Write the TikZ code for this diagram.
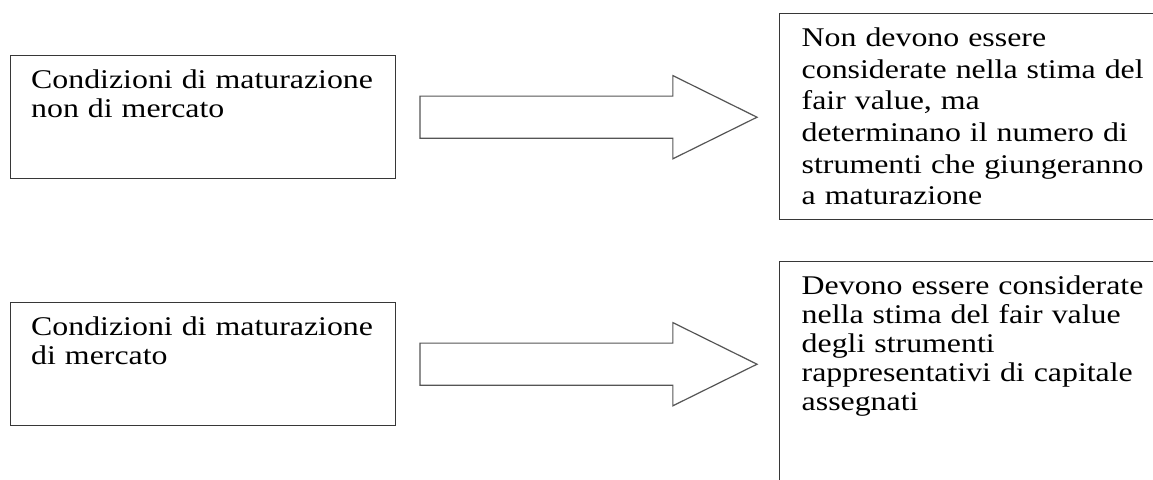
\documentclass[tikz,border=0pt]{standalone}
\usepackage{fontspec}
\setmainfont{Liberation Serif}[FakeStretch=1.18]
\usepackage{tikz}
\usetikzlibrary{shapes.arrows, positioning}
\definecolor{boxgray}{RGB}{55,55,55}
\definecolor{arrowgray}{RGB}{85,85,85}
\hyphenpenalty=10000
\exhyphenpenalty=10000

\begin{document}
\begin{tikzpicture}[
  x=1pt, y=-1pt,
  condbox/.style={rectangle, draw=boxgray, line width=1.4pt, anchor=north west,
                  align=left, text width=344pt, inner xsep=20.5pt, inner ysep=14.5pt,
                  text height=18.5pt, text depth=75.5pt,
                  font=\fontsize{27}{29}\selectfont},
  esitobox/.style={condbox, text width=350pt, inner xsep=22pt},
  freccia/.style={single arrow, draw=arrowgray, line width=1.2pt, fill=white,
                  minimum height=337pt, minimum width=82pt,
                  single arrow head extend=20.5pt, single arrow tip angle=52.6,
                  inner xsep=0pt, inner ysep=20.5pt},
]
\clip (0,0) rectangle (1153,479);
\fill[white] (0,0) rectangle (1153,479);

\node[condbox] (c1) at (10,55) {Condizioni di maturazione\\non di mercato};
\node[condbox] (c2) at (10,302) {Condizioni di maturazione\\di mercato};

\node[esitobox, text depth=158.5pt, font=\fontsize{27}{31.6}\selectfont] (e1) at (779,13)
  {Non devono essere\\considerate nella stima del\\fair value, ma\\determinano il numero di\\strumenti che giungeranno\\a maturazione};
\node[esitobox, text depth=191.5pt] (e2) at (779,261)
  {Devono essere considerate\\nella stima del fair value\\degli strumenti\\rappresentativi di capitale\\assegnati};

% frecce tra condizioni ed effetti
\node[freccia, right=23pt of c1] (f1) {};
\node[freccia, right=23pt of c2] (f2) {};

\end{tikzpicture}
\end{document}
